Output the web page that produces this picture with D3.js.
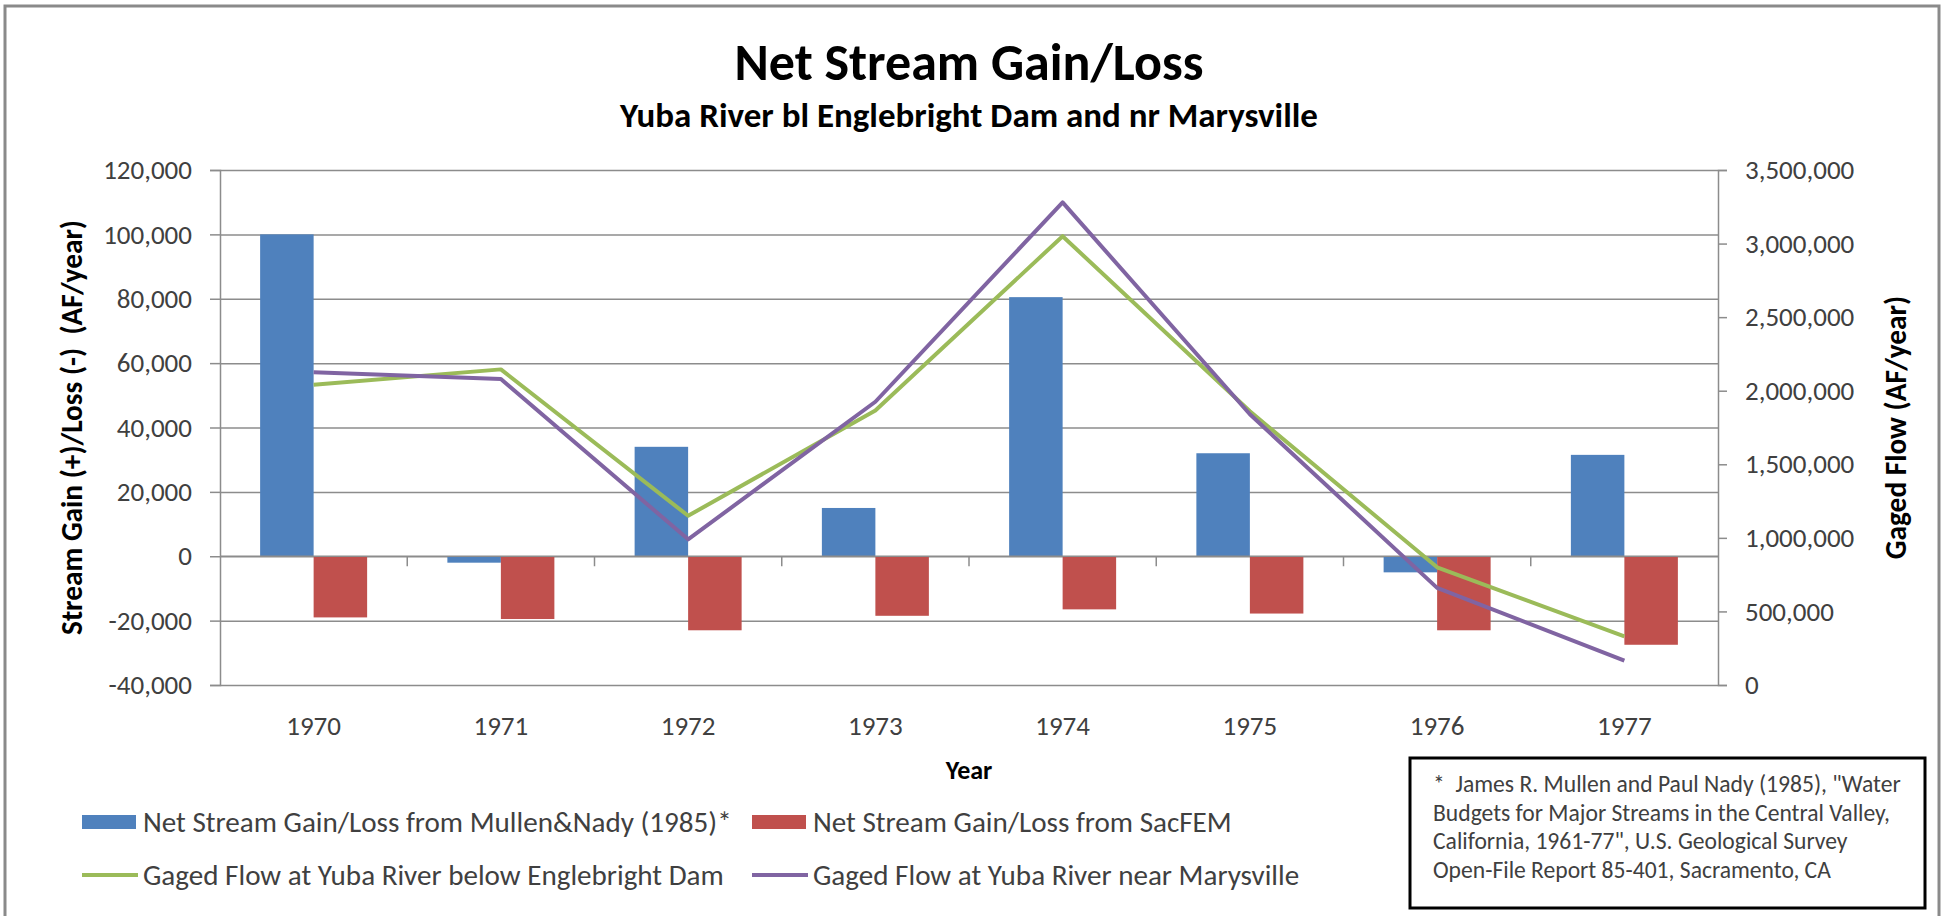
<!DOCTYPE html>
<html>
<head>
<meta charset="utf-8">
<script src="https://cdn.jsdelivr.net/npm/d3@7"></script>
<style>
  body { margin: 0; background: #fff; }
  svg { display: block; }
  text { font-family: Carlito, Calibri, Lato, sans-serif; }
</style>
</head>
<body>
<div id="chart"></div>
<script>
// values
var years = ["1970", "1971", "1972", "1973", "1974", "1975", "1976", "1977"];
var mullenNady = [100000, -2000, 34000, 15000, 80500, 32000, -5000, 31500];
var sacFEM = [-19000, -19500, -23000, -18500, -16500, -17800, -23000, -27500];
var flowEnglebright = [2040000, 2145000, 1150000, 1865000, 3050000, 1860000, 800000, 330000];
var flowMarysville = [2125000, 2080000, 990000, 1925000, 3280000, 1840000, 660000, 165000];
var leftTicks = [-40000, -20000, 0, 20000, 40000, 60000, 80000, 100000, 120000];
var rightTicks = [0, 500000, 1000000, 1500000, 2000000, 2500000, 3000000, 3500000];
var seriesNames = [
  "Net Stream Gain/Loss from Mullen&Nady (1985)*",
  "Net Stream Gain/Loss from SacFEM",
  "Gaged Flow at Yuba River below Englebright Dam",
  "Gaged Flow at Yuba River near Marysville"
];
var noteLines = [
  "*  James R. Mullen and Paul Nady (1985), \"Water",
  "Budgets for Major Streams in the Central Valley,",
  "California, 1961-77\", U.S. Geological Survey",
  "Open-File Report 85-401, Sacramento, CA"
];

var colors = { blue: "#4f81bd", red: "#c0504d", green: "#9bbb59", purple: "#8064a2" };

var W = 1944, H = 916;
var m = { left: 220, right: 1718, top: 170, bottom: 685 };

var fmt = d3.formatLocale({ decimal: ".", thousands: ",", grouping: [3], currency: ["$", ""], minus: "-" }).format(",");

// scale font size so a text is w pixels long
function fitTo(sel, w) {
  sel.each(function() {
    var len = this.getComputedTextLength();
    var fs = parseFloat(d3.select(this).attr("font-size"));
    d3.select(this).attr("font-size", (fs * w / len).toFixed(2));
  });
}

var svg = d3.select("#chart").append("svg").attr("width", W).attr("height", H);

svg.append("rect").attr("x", 5).attr("y", 6).attr("width", 1934).attr("height", 930)
  .attr("fill", "#fff").attr("stroke", "#8a8a8a").attr("stroke-width", 3);

var x0 = d3.scaleBand().domain(years).range([m.left, m.right]);
var x1 = d3.scaleBand().domain(["mn", "sac"]).range([0, x0.bandwidth()]).paddingOuter(0.75);
var yL = d3.scaleLinear().domain([-40000, 120000]).range([m.bottom, m.top]);
var yR = d3.scaleLinear().domain([0, 3500000]).range([m.bottom, m.top]);

// gridlines
var grid = svg.append("g").attr("transform", "translate(" + m.left + ",0)")
  .call(d3.axisLeft(yL).tickValues(leftTicks).tickSize(-(m.right - m.left)).tickFormat(""));
grid.select(".domain").remove();
grid.selectAll("line").attr("stroke", "#8c8c8c").attr("stroke-width", 1.5);

// bars
var barData = [];
years.forEach(function(yr, i) {
  barData.push({ year: yr, key: "mn", v: mullenNady[i], c: colors.blue });
  barData.push({ year: yr, key: "sac", v: sacFEM[i], c: colors.red });
});
svg.append("g").selectAll("rect").data(barData).enter().append("rect")
  .attr("x", function(d) { return x0(d.year) + x1(d.key); })
  .attr("width", x1.bandwidth())
  .attr("y", function(d) { return yL(Math.max(0, d.v)); })
  .attr("height", function(d) { return Math.abs(yL(d.v) - yL(0)); })
  .attr("fill", function(d) { return d.c; });

// category axis on the zero line
var zeroAxis = svg.append("g");
zeroAxis.append("line").attr("x1", m.left).attr("x2", m.right)
  .attr("y1", yL(0)).attr("y2", yL(0)).attr("stroke", "#8c8c8c").attr("stroke-width", 1.5);
zeroAxis.selectAll(".tk").data(years.slice(1)).enter().append("line")
  .attr("x1", function(d) { return x0(d); }).attr("x2", function(d) { return x0(d); })
  .attr("y1", yL(0)).attr("y2", yL(0) + 10).attr("stroke", "#8c8c8c").attr("stroke-width", 1.5);

// left axis
var gl = svg.append("g").attr("transform", "translate(" + m.left + ",0)")
  .call(d3.axisLeft(yL).tickValues(leftTicks).tickSize(10).tickPadding(18).tickFormat(fmt));
gl.selectAll("line, path").attr("stroke", "#8c8c8c").attr("stroke-width", 1.5);
gl.selectAll("text").attr("font-size", 27).attr("fill", "#404040")
  .style("font-family", "Carlito, Calibri, Lato, sans-serif");

// right axis
var gr = svg.append("g").attr("transform", "translate(" + m.right + ",0)")
  .call(d3.axisRight(yR).tickValues(rightTicks).tickSize(9).tickPadding(18).tickFormat(fmt));
gr.selectAll("line, path").attr("stroke", "#8c8c8c").attr("stroke-width", 1.5);
gr.selectAll("text").attr("font-size", 27).attr("fill", "#404040")
  .style("font-family", "Carlito, Calibri, Lato, sans-serif");

// year labels below plot
var gx = svg.append("g").attr("transform", "translate(0,716)")
  .call(d3.axisBottom(x0).tickSize(0).tickPadding(0));
gx.select(".domain").remove();
gx.selectAll("text").attr("font-size", 27).attr("fill", "#404040")
  .style("font-family", "Carlito, Calibri, Lato, sans-serif");

// lines
var line = d3.line()
  .x(function(d) { return x0(d.year) + x0.bandwidth() / 2; })
  .y(function(d) { return yR(d.v); });
var lineSeries = [
  { vals: flowEnglebright, c: colors.green },
  { vals: flowMarysville, c: colors.purple }
];
svg.append("g").selectAll("path").data(lineSeries).enter().append("path")
  .attr("d", function(s) { return line(years.map(function(yr, i) { return { year: yr, v: s.vals[i] }; })); })
  .attr("fill", "none").attr("stroke", function(s) { return s.c; })
  .attr("stroke-width", 4).attr("stroke-linejoin", "round");

// titles
var cx = (m.left + m.right) / 2;
svg.append("text").attr("x", cx).attr("y", 80).attr("text-anchor", "middle")
  .attr("font-size", 46).attr("font-weight", "bold").attr("fill", "#000")
  .text("Net Stream Gain/Loss").call(fitTo, 469);
svg.append("text").attr("x", cx).attr("y", 127).attr("text-anchor", "middle")
  .attr("font-size", 28).attr("font-weight", "bold").attr("fill", "#000")
  .text("Yuba River bl Englebright Dam and nr Marysville").call(fitTo, 698);

var yMid = (m.top + m.bottom) / 2;
var leftTitle = svg.append("text").attr("transform", "translate(72," + yMid + ") rotate(-90)")
  .attr("text-anchor", "middle").attr("dy", "0.35em")
  .attr("font-size", 26).attr("font-weight", "bold").attr("fill", "#000")
  .attr("xml:space", "preserve").style("white-space", "pre")
  .text("Stream Gain (+)/Loss (-)  (AF/year)").call(fitTo, 415);
svg.append("text").attr("transform", "translate(1896," + yMid + ") rotate(-90)")
  .attr("text-anchor", "middle").attr("dy", "0.35em")
  .attr("font-size", leftTitle.attr("font-size")).attr("font-weight", "bold").attr("fill", "#000")
  .text("Gaged Flow (AF/year)");
svg.append("text").attr("x", cx).attr("y", 779).attr("text-anchor", "middle")
  .attr("font-size", 26).attr("font-weight", "bold").attr("fill", "#000").text("Year");

// legend
var legendPos = [
  { x: 82, y: 822, type: "rect", c: colors.blue },
  { x: 752, y: 822, type: "rect", c: colors.red },
  { x: 82, y: 875, type: "line", c: colors.green },
  { x: 752, y: 875, type: "line", c: colors.purple }
];
var lg = svg.append("g").selectAll("g").data(legendPos).enter().append("g")
  .attr("transform", function(d) { return "translate(" + d.x + "," + d.y + ")"; });
lg.filter(function(d) { return d.type === "rect"; }).append("rect")
  .attr("x", 0).attr("y", -7).attr("width", 54).attr("height", 14).attr("fill", function(d) { return d.c; });
lg.filter(function(d) { return d.type === "line"; }).append("line")
  .attr("x1", 0).attr("x2", 56).attr("y1", 0).attr("y2", 0)
  .attr("stroke", function(d) { return d.c; }).attr("stroke-width", 4);
var lgText = lg.append("text").attr("x", 61).attr("dy", "0.35em").attr("font-size", 25).attr("fill", "#404040")
  .text(function(d, i) { return seriesNames[i]; });
fitTo(d3.select(lgText.nodes()[2]), 581);
lgText.attr("font-size", d3.select(lgText.nodes()[2]).attr("font-size"));

// note box
svg.append("rect").attr("x", 1410).attr("y", 758).attr("width", 515).attr("height", 150)
  .attr("fill", "#fff").attr("stroke", "#000").attr("stroke-width", 3);
var nt = svg.append("g").selectAll("text").data(noteLines).enter().append("text")
  .attr("x", 1433).attr("y", function(d, i) { return 792 + i * 28.5; })
  .attr("font-size", 22).attr("fill", "#404040")
  .attr("xml:space", "preserve").style("white-space", "pre")
  .text(function(d) { return d; });
fitTo(d3.select(nt.nodes()[1]), 457);
nt.attr("font-size", d3.select(nt.nodes()[1]).attr("font-size"));
</script>
</body>
</html>
